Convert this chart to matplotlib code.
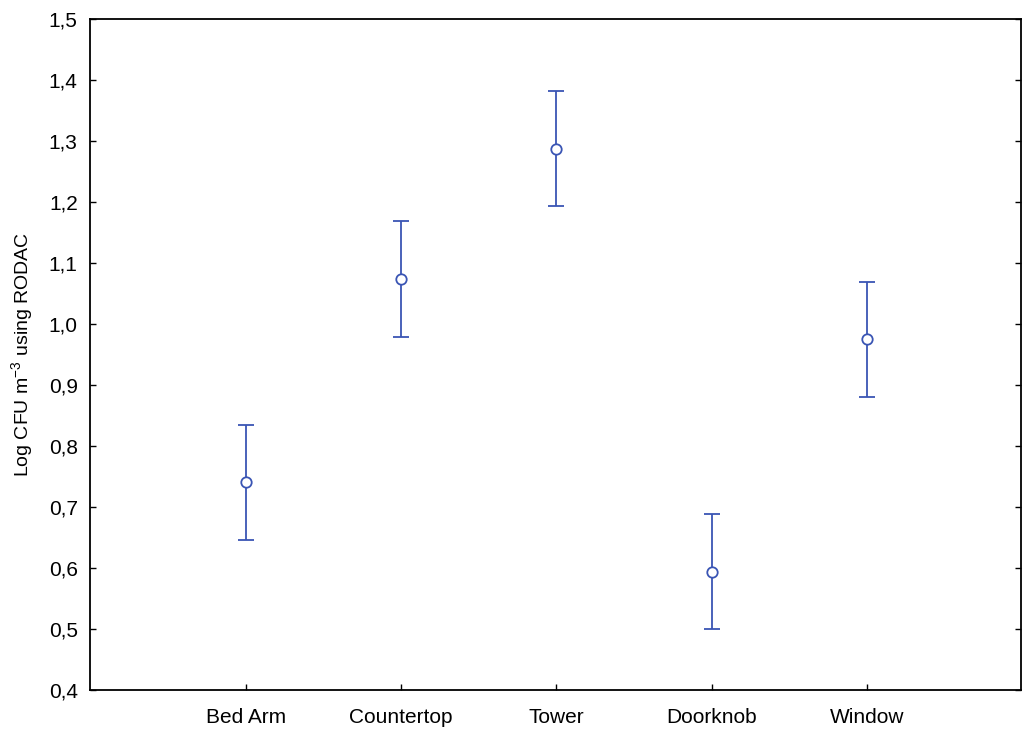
import matplotlib
matplotlib.use("Agg")
import matplotlib.pyplot as plt
from matplotlib.ticker import FuncFormatter

plt.rcParams['font.family'] = ['Liberation Sans', 'DejaVu Sans']

# data
sites = ['Bed Arm', 'Countertop', 'Tower', 'Doorknob', 'Window']
means = [0.740, 1.073, 1.287, 0.594, 0.975]
upper = [0.835, 1.168, 1.382, 0.689, 1.069]
lower = [0.646, 0.979, 1.194, 0.500, 0.880]

color = '#3a55b4'

fig = plt.figure(figsize=(10.25, 7.3), dpi=100)
ax = fig.add_axes([0.088, 0.055, 0.908, 0.919])

x = list(range(1, len(sites) + 1))
yerr = [[m - lo for m, lo in zip(means, lower)],
        [hi - m for m, hi in zip(means, upper)]]
ax.errorbar(x, means, yerr=yerr, fmt='o', color=color, ecolor=color,
            elinewidth=1.3, capsize=6, capthick=1.3,
            markersize=7.5, markerfacecolor='white', markeredgecolor=color,
            markeredgewidth=1.3)

ax.set_xlim(0.0, 5.99)
ax.set_ylim(0.4, 1.5)
ax.set_xticks(x)
ax.set_xticklabels(sites)
ax.set_yticks([0.4 + 0.1 * i for i in range(12)])
ax.yaxis.set_major_formatter(FuncFormatter(lambda v, p: f'{v:.1f}'.replace('.', ',')))
ax.tick_params(direction='in', length=4, width=1, labelsize=15, right=True, top=False)
ax.tick_params(axis='x', pad=13)
ax.tick_params(axis='y', pad=9)
ax.set_ylabel('Log CFU m$^{\\mathregular{-3}}$ using RODAC', fontsize=14, labelpad=9)
for s in ax.spines.values():
    s.set_linewidth(1.3)

fig.savefig('out.png', dpi=100)
